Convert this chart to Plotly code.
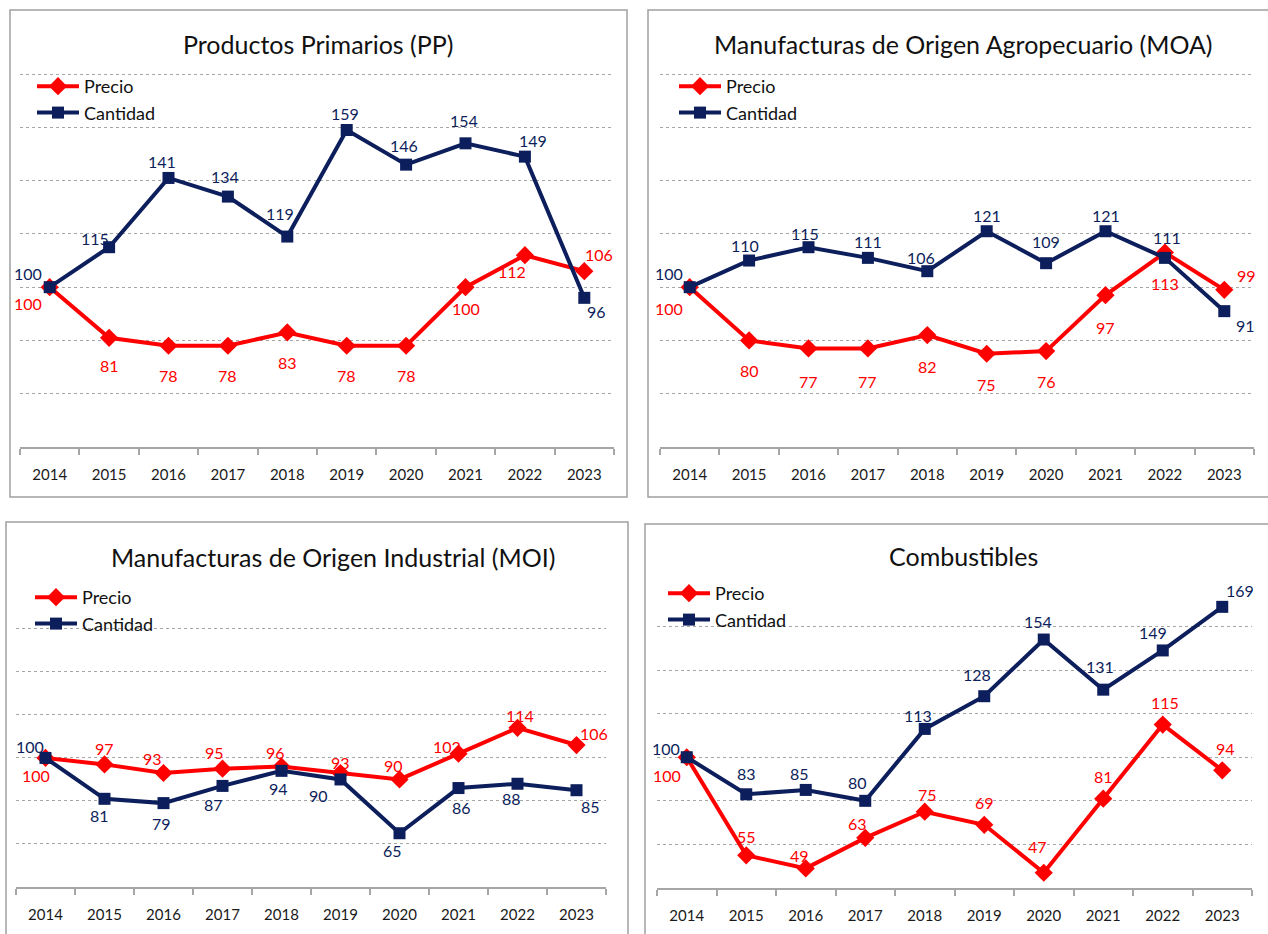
import plotly.graph_objects as go

W, H = 1268, 934
FONT = "Lato"
RED = "#ff0000"
NAVY = "#0c1e5b"
GRID = "#a6a6a6"

years = ["2014", "2015", "2016", "2017", "2018", "2019", "2020", "2021", "2022", "2023"]

titles = ["Productos Primarios (PP)",
          "Manufacturas de Origen Agropecuario (MOA)",
          "Manufacturas de Origen Industrial (MOI)",
          "Combustibles"]

pp_precio = [100, 81, 78, 78, 83, 78, 78, 100, 112, 106]
pp_cantidad = [100, 115, 141, 134, 119, 159, 146, 154, 149, 96]
moa_precio = [100, 80, 77, 77, 82, 75, 76, 97, 113, 99]
moa_cantidad = [100, 110, 115, 111, 106, 121, 109, 121, 111, 91]
moi_precio = [100, 97, 93, 95, 96, 93, 90, 102, 114, 106]
moi_cantidad = [100, 81, 79, 87, 94, 90, 65, 86, 88, 85]
comb_precio = [100, 55, 49, 63, 75, 69, 47, 81, 115, 94]
comb_cantidad = [100, 83, 85, 80, 113, 128, 154, 131, 149, 169]

series = [(pp_precio, pp_cantidad), (moa_precio, moa_cantidad),
          (moi_precio, moi_cantidad), (comb_precio, comb_cantidad)]

# label offsets in px (dx right, dy down) -- styling only
off_precio = [
    [(-22, 16), (0, 28), (0, 30), (0, 30), (0, 30), (0, 30), (0, 30), (0, 21), (-13, 16), (15, -17)],
    [(-21, 21), (0, 30), (0, 33), (0, 33), (0, 31), (0, 31), (0, 30), (0, 32), (0, 31), (22, -14)],
    [(-10, 18), (0, -16), (-11, -15), (-8, -16), (-6, -14), (0, -11), (-6, -14), (-12, -7), (2, -12), (17, -12)],
    [(-20, 18), (0, -19), (-6, -13), (-8, -14), (3, -17), (0, -22), (-6, -26), (0, -22), (2, -22), (3, -22)],
]
off_cant = [
    [(-22, -14), (-14, -9), (-7, -16), (-3, -20), (-7, -23), (-2, -17), (-2, -19), (-2, -23), (8, -16), (12, 14)],
    [(-21, -14), (-4, -15), (-4, -14), (0, -16), (-6, -14), (0, -16), (0, -22), (0, -16), (2, -20), (21, 14)],
    [(-16, -11), (-5, 17), (-2, 20), (-9, 19), (-3, 18), (-22, 16), (-7, 17), (3, 19), (-6, 15), (14, 16)],
    [(-21, -9), (0, -21), (-6, -16), (-8, -18), (-7, -13), (-7, -22), (-6, -18), (-3, -23), (-10, -18), (18, -16)],
]

# panel layout in pixels
plot_px = [(20, 614, 73, 447), (660, 1254, 73, 447), (16, 606, 585, 887), (657, 1252, 582, 888)]
border_px = [(10, 627, 10, 497), (648, 1275, 10, 497), (6, 628, 522, 940), (645, 1275, 524, 940)]
title_px = [(318, 44), (963, 44), (333, 557), (963, 556)]
legend_px = [(32, 68), (674, 68), (30, 579), (663, 575)]

fig = go.Figure()
layout = dict(width=W, height=H, margin=dict(l=0, r=0, t=0, b=0),
              paper_bgcolor="white", plot_bgcolor="white",
              font=dict(family=FONT, size=15, color="#1a1a1a"),
              showlegend=True)
annotations = []
shapes = []

for i in range(4):
    sfx = "" if i == 0 else str(i + 1)
    xa, ya = "x" + sfx, "y" + sfx
    lg = "legend" + sfx
    x0, x1, y0, y1 = plot_px[i]
    layout["xaxis" + sfx] = dict(
        domain=[x0 / W, x1 / W], anchor=ya, type="category",
        categoryorder="array", categoryarray=years,
        range=[-0.5, len(years) - 0.5], autorange=False,
        showline=True, linecolor=GRID, linewidth=1.5,
        ticks="outside", tickson="boundaries", ticklen=6, tickcolor=GRID, tickwidth=1.5,
        showgrid=False, tickfont=dict(family=FONT, size=15, color="#1a1a1a"),
        tickangle=0, ticklabelstandoff=13, fixedrange=True)
    layout["yaxis" + sfx] = dict(
        domain=[1 - y1 / H, 1 - y0 / H], anchor=xa, range=[40, 180.4], autorange=False,
        dtick=20, tick0=40, showticklabels=False, showgrid=True, gridcolor=GRID,
        griddash="dot", gridwidth=1, zeroline=False, showline=False, fixedrange=True)
    lx, ly = legend_px[i]
    layout[lg] = dict(x=lx / W, y=1 - ly / H, xanchor="left", yanchor="top",
                      bgcolor="rgba(0,0,0,0)", font=dict(family=FONT, size=18, color="#111"),
                      itemwidth=42, tracegroupgap=5, traceorder="normal")
    precio, cant = series[i]
    fig.add_trace(go.Scatter(x=years, y=precio, name="Precio", mode="lines+markers",
                             line=dict(color=RED, width=4),
                             marker=dict(symbol="diamond", size=14, color=RED),
                             xaxis=xa, yaxis=ya, legend=lg, legendgroup=f"p{i}"))
    fig.add_trace(go.Scatter(x=years, y=cant, name="Cantidad", mode="lines+markers",
                             line=dict(color=NAVY, width=4),
                             marker=dict(symbol="square", size=12, color=NAVY),
                             xaxis=xa, yaxis=ya, legend=lg, legendgroup=f"c{i}"))
    for vals, offs, col in ((precio, off_precio[i], RED), (cant, off_cant[i], NAVY)):
        for j, (v, (dx, dy)) in enumerate(zip(vals, offs)):
            annotations.append(dict(x=j, y=v, xref=xa, yref=ya, text=str(v), showarrow=False,
                                    xshift=dx, yshift=-dy,
                                    font=dict(family=FONT, size=16, color=col)))
    tx, ty = title_px[i]
    annotations.append(dict(x=tx / W, y=1 - ty / H, xref="paper", yref="paper",
                            text=titles[i], showarrow=False, xanchor="center", yanchor="middle",
                            font=dict(family=FONT, size=25, color="#111")))
    bx0, bx1, by0, by1 = border_px[i]
    shapes.append(dict(type="rect", xref="paper", yref="paper",
                       x0=bx0 / W, x1=bx1 / W, y0=1 - by1 / H, y1=1 - by0 / H,
                       line=dict(color="#a0a0a0", width=1.5), fillcolor="rgba(0,0,0,0)", layer="below"))

layout["annotations"] = annotations
layout["shapes"] = shapes
fig.update_layout(**layout)
fig.write_html("out.html", config={"displayModeBar": False},
               post_script="document.body.style.margin='0';document.body.style.overflow='hidden';")
